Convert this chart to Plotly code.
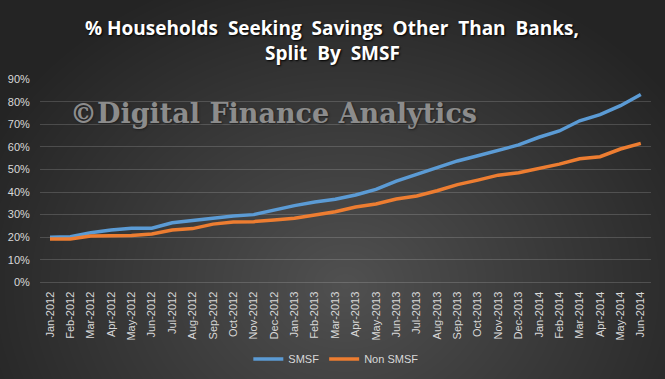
import base64
import struct
import zlib

import numpy as np
import plotly.graph_objects as go

# ---------------- data ----------------
months = ["Jan-2012", "Feb-2012", "Mar-2012", "Apr-2012", "May-2012", "Jun-2012",
          "Jul-2012", "Aug-2012", "Sep-2012", "Oct-2012", "Nov-2012", "Dec-2012",
          "Jan-2013", "Feb-2013", "Mar-2013", "Apr-2013", "May-2013", "Jun-2013",
          "Jul-2013", "Aug-2013", "Sep-2013", "Oct-2013", "Nov-2013", "Dec-2013",
          "Jan-2014", "Feb-2014", "Mar-2014", "Apr-2014", "May-2014", "Jun-2014"]
smsf = [0.200, 0.202, 0.220, 0.232, 0.240, 0.240, 0.264, 0.274, 0.284, 0.294,
        0.300, 0.320, 0.340, 0.356, 0.368, 0.387, 0.412, 0.449, 0.480, 0.510,
        0.538, 0.561, 0.586, 0.609, 0.643, 0.671, 0.716, 0.743, 0.783, 0.833]
non_smsf = [0.192, 0.192, 0.205, 0.207, 0.207, 0.214, 0.232, 0.238, 0.258, 0.267,
            0.269, 0.276, 0.284, 0.298, 0.313, 0.334, 0.347, 0.369, 0.383, 0.406,
            0.433, 0.453, 0.475, 0.486, 0.504, 0.524, 0.548, 0.557, 0.591, 0.616]
y_ticks = [0.0, 0.1, 0.2, 0.3, 0.4, 0.5, 0.6, 0.7, 0.8, 0.9]

title_line1 = "% Households  Seeking  Savings  Other  Than  Banks,"
title_line2 = "Split  By  SMSF"
watermark = "©Digital Finance Analytics"

W, H = 665, 379


# ---------------- radial gradient background as PNG ----------------
def png_uri(arr):
    h, w, _ = arr.shape
    raw = b"".join(b"\x00" + arr[i].tobytes() for i in range(h))

    def chunk(tag, data):
        c = struct.pack(">I", len(data)) + tag + data
        return c + struct.pack(">I", zlib.crc32(tag + data) & 0xFFFFFFFF)

    png = (b"\x89PNG\r\n\x1a\n"
           + chunk(b"IHDR", struct.pack(">IIBBBBB", w, h, 8, 2, 0, 0, 0))
           + chunk(b"IDAT", zlib.compress(raw, 9))
           + chunk(b"IEND", b""))
    return "data:image/png;base64," + base64.b64encode(png).decode()


yy, xx = np.mgrid[0:H, 0:W].astype(float)
cx, cy = 345.0, 285.0
d = np.sqrt(((xx - cx) / 400.0) ** 2 + ((yy - cy) / 330.0) ** 2)
d = np.clip(d, 0, 1)
inner, outer = 80.0, 36.0
val = inner + (outer - inner) * d
img = np.repeat(val[:, :, None], 3, axis=2).round().astype(np.uint8)
bg_uri = png_uri(img)

# ---------------- figure ----------------
fig = go.Figure()
fig.add_trace(go.Scatter(x=months, y=smsf, mode="lines", name="SMSF",
                         line=dict(color="#5B9BD5", width=3.5)))
fig.add_trace(go.Scatter(x=months, y=non_smsf, mode="lines", name="Non SMSF",
                         line=dict(color="#ED7D31", width=3.5)))

grid = "rgba(255,255,255,0.16)"
fig.update_layout(
    width=W, height=H,
    margin=dict(l=0, r=0, t=0, b=0),
    paper_bgcolor="#2e2e2e",
    plot_bgcolor="rgba(0,0,0,0)",
    images=[dict(source=bg_uri, xref="paper", yref="paper", x=0, y=1,
                 sizex=1, sizey=1, sizing="stretch", xanchor="left",
                 yanchor="top", layer="below")],
    xaxis=dict(domain=[39.8 / W, 651.0 / W], range=[-0.5, len(months) - 0.5],
               type="category", tickangle=-90, showgrid=False,
               showline=True, linecolor=grid, linewidth=1,
               tickfont=dict(family="Liberation Sans", size=11, color="#d9d9d9"),
               ticklabelstandoff=4, automargin=False, fixedrange=True),
    yaxis=dict(domain=[1 - 282.3 / H, 1 - 79.3 / H], range=[0, 0.9],
               tickvals=y_ticks, tickformat=".0%", showgrid=True,
               gridcolor=grid, gridwidth=1, zeroline=True, zerolinecolor=grid,
               zerolinewidth=1, showline=False,
               tickfont=dict(family="Liberation Sans", size=11, color="#d9d9d9"),
               ticklabelstandoff=9, automargin=False, fixedrange=True),
    showlegend=True,
    legend=dict(orientation="h", x=0.505, xanchor="center", y=1 - 359.0 / H,
                yanchor="middle", bgcolor="rgba(0,0,0,0)",
                font=dict(family="Liberation Sans", size=11, color="#d9d9d9"),
                itemwidth=30),
    annotations=[
        dict(text="<b>" + title_line1 + "</b>", x=332.0 / W, y=1 - 28.0 / H,
             xref="paper", yref="paper", showarrow=False, xanchor="center",
             yanchor="middle",
             font=dict(family="Open Sans", size=19, color="#ffffff",
                       shadow="1px 1px 2px #000000")),
        dict(text="<b>" + title_line2 + "</b>", x=332.0 / W, y=1 - 53.0 / H,
             xref="paper", yref="paper", showarrow=False, xanchor="center",
             yanchor="middle",
             font=dict(family="Open Sans", size=19, color="#ffffff",
                       shadow="1px 1px 2px #000000")),
        dict(text="<b>" + watermark + "</b>", x=273.0 / W, y=1 - 113.0 / H,
             xref="paper", yref="paper", showarrow=False, xanchor="center",
             yanchor="middle",
             font=dict(family="DejaVu Serif", size=27, color="#8c8c8c",
                       shadow="1px 1px 2px #202020")),
    ],
)

fig.write_html("out.html",
               config={"displayModeBar": False, "staticPlot": True},
               post_script="document.body.style.margin='0';"
                           "document.documentElement.style.margin='0';")
